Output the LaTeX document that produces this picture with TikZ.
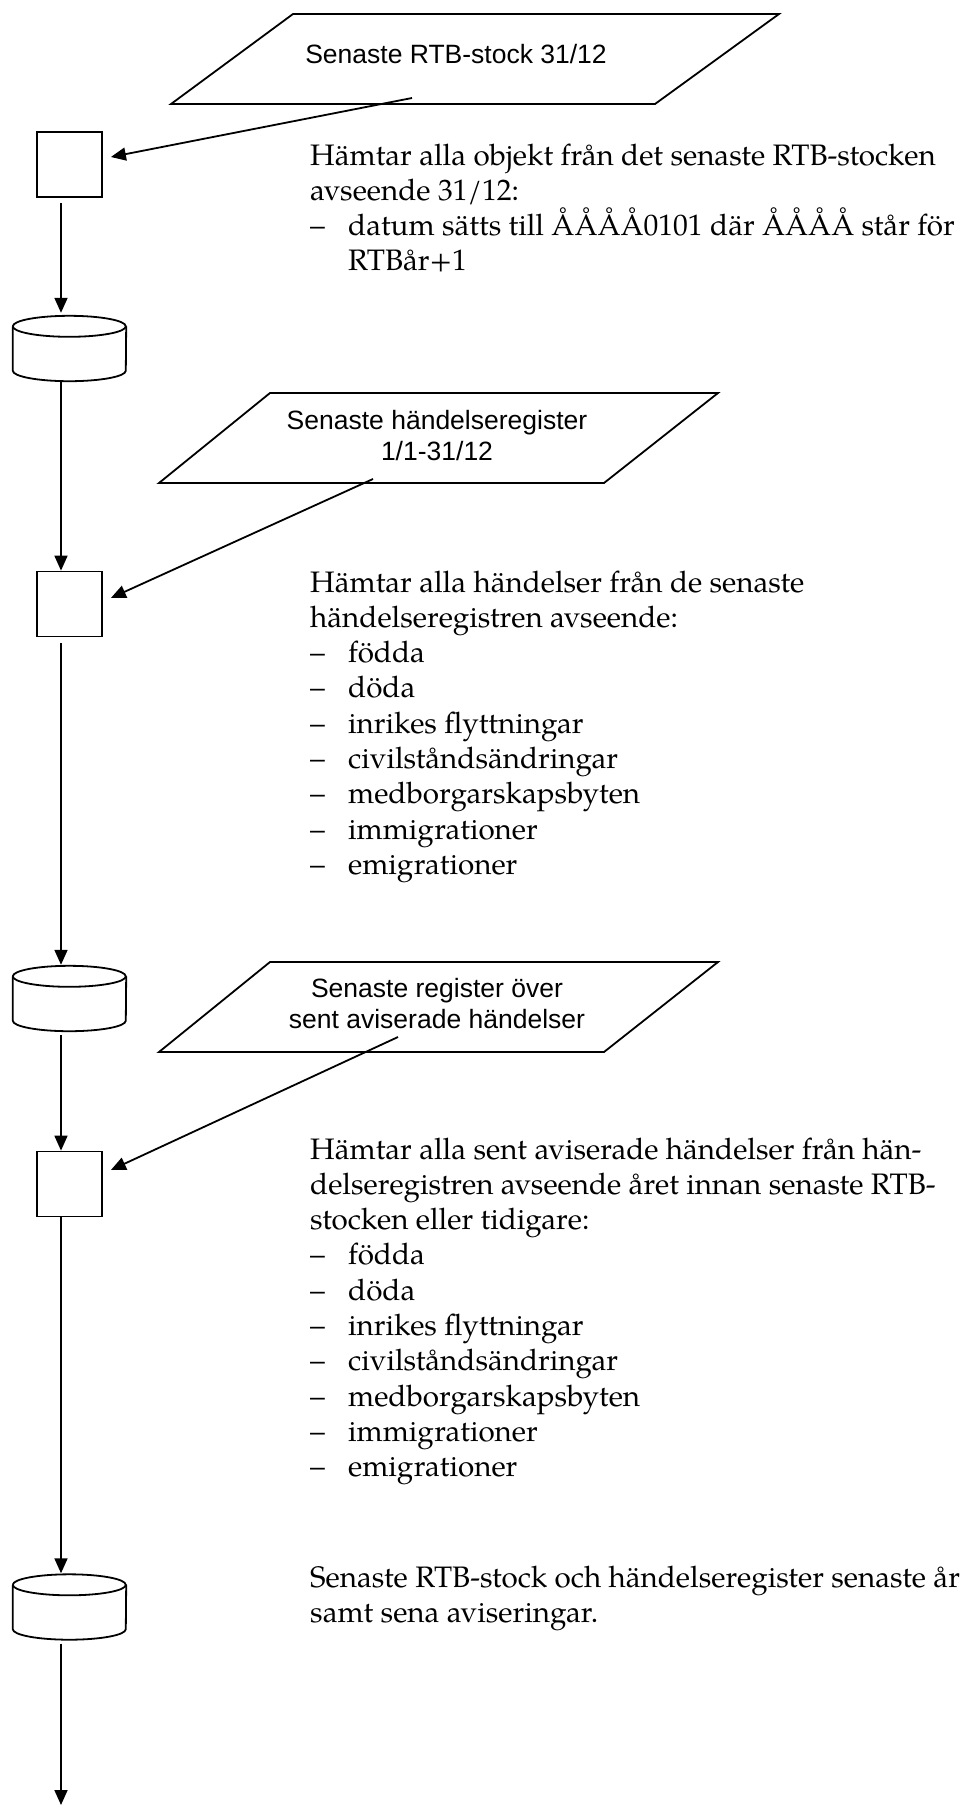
\documentclass[tikz,border=0pt]{standalone}
\usepackage{fontspec}
\setmainfont{TeX Gyre Pagella}
\newfontfamily\sansf{Liberation Sans}
\usetikzlibrary{arrows.meta,calc}
\newcommand\itemdash{\makebox[38pt][l]{–}}
\newcommand\drawcyl[1]{%
  \draw[line width=1.8pt] ([yshift=-10.5pt]#1.north west) arc[start angle=180, end angle=-180, x radius=56.5pt, y radius=10.5pt];
  \draw[line width=1.8pt] ([yshift=-10.5pt]#1.north west) -- ([yshift=10.5pt]#1.south west)
     arc[start angle=180, end angle=360, x radius=56.5pt, y radius=10.5pt] -- ([yshift=-10.5pt]#1.north east);
}
\begin{document}
\begin{tikzpicture}[x=1pt,y=1pt,
  box/.style={draw, line width=1.8pt, minimum width=65pt, minimum height=65pt, inner sep=0pt},
  cylbox/.style={minimum width=113pt, minimum height=65pt, inner sep=0pt},
  flow/.style={line width=1.8pt, -{Triangle[length=15pt,width=13pt]}},
  para/.style={draw, line width=1.8pt, line join=miter},
  lbl/.style={inner sep=0pt, anchor=base, font=\sansf\fontsize{26.5}{31}\selectfont},
  desc/.style={inner sep=0pt, anchor=base west, font=\fontsize{29.6}{35.3}\selectfont}
]
\useasboundingbox (0,0) rectangle (963,-1805);

% process boxes
\node[box] (b1) at (69.5,-164.5) {};
\node[box] (b2) at (69.5,-604) {};
\node[box] (b3) at (69.5,-1184) {};

% storage cylinders
\node[cylbox] (c1) at (69.5,-348.5) {};
\node[cylbox] (c2) at (69.5,-998.5) {};
\node[cylbox] (c3) at (69.5,-1607) {};
\drawcyl{c1}
\drawcyl{c2}
\drawcyl{c3}

% input parallelograms
\draw[para] (293,-14) -- (779,-14) -- (655,-104) -- (171,-104) -- cycle;
\node[lbl] (t1) at (456,-63) {Senaste RTB-stock 31/12};
\draw[para] (270,-393) -- (718,-393) -- (604,-483) -- (159,-483) -- cycle;
\node[lbl] (t2) at (437,-429) {\parbox[t]{400pt}{\centering Senaste händelseregister\\1/1-31/12}};
\draw[para] (270,-962) -- (718,-962) -- (604,-1052) -- (159,-1052) -- cycle;
\node[lbl] (t3) at (437,-997) {\parbox[t]{400pt}{\centering Senaste register över\\sent aviserade händelser}};

% descriptions
\node[desc] (d1) at (310,-165) {\parbox[t]{700pt}{\raggedright
Hämtar alla objekt från det senaste RTB-stocken\\
avseende 31/12:\\
\itemdash datum sätts till ÅÅÅÅ0101 där ÅÅÅÅ står för\\
\hspace*{38pt}RTBår+1}};
\node[desc] (d2) at (310,-592) {\parbox[t]{700pt}{\raggedright
Hämtar alla händelser från de senaste\\
händelseregistren avseende:\\
\itemdash födda\\
\itemdash döda\\
\itemdash inrikes flyttningar\\
\itemdash civilståndsändringar\\
\itemdash medborgarskapsbyten\\
\itemdash immigrationer\\
\itemdash emigrationer}};
\node[desc] (d3) at (310,-1159) {\parbox[t]{700pt}{\raggedright
Hämtar alla sent aviserade händelser från hän-\\
delseregistren avseende året innan senaste RTB-\\
stocken eller tidigare:\\
\itemdash födda\\
\itemdash döda\\
\itemdash inrikes flyttningar\\
\itemdash civilståndsändringar\\
\itemdash medborgarskapsbyten\\
\itemdash immigrationer\\
\itemdash emigrationer}};
\node[desc] (d4) at (310,-1587) {\parbox[t]{700pt}{\raggedright
Senaste RTB-stock och händelseregister senaste år\\
samt sena aviseringar.}};

% connectors
\coordinate (s1) at (412,-98);
\coordinate (s2) at (373,-479);
\coordinate (s3) at (398,-1037);
\coordinate (fin) at (61,-1805);
\draw[flow] (s1) -- ($(b1.east)+(8,7.5)$);
\draw[flow] (s2) -- ($(b2.east)+(8,6)$);
\draw[flow] (s3) -- ($(b3.east)+(8,14)$);

\draw[flow] ([xshift=-8.5pt,yshift=-5pt]b1.south) -- ([xshift=-8.5pt,yshift=3pt]c1.north);
\draw[flow] ([xshift=-8.5pt,yshift=-0.5pt]c1.south) -- ([xshift=-8.5pt]b2.north);
\draw[flow] ([xshift=-8.5pt,yshift=-6pt]b2.south) -- ([xshift=-8.5pt,yshift=1pt]c2.north);
\draw[flow] ([xshift=-8.5pt,yshift=-4pt]c2.south) -- ([xshift=-8.5pt]b3.north);
\draw[flow] ([xshift=-8.5pt]b3.south) -- ([xshift=-8.5pt,yshift=1pt]c3.north);
\draw[flow] ([xshift=-8.5pt,yshift=-4pt]c3.south) -- (fin);
\end{tikzpicture}
\end{document}
